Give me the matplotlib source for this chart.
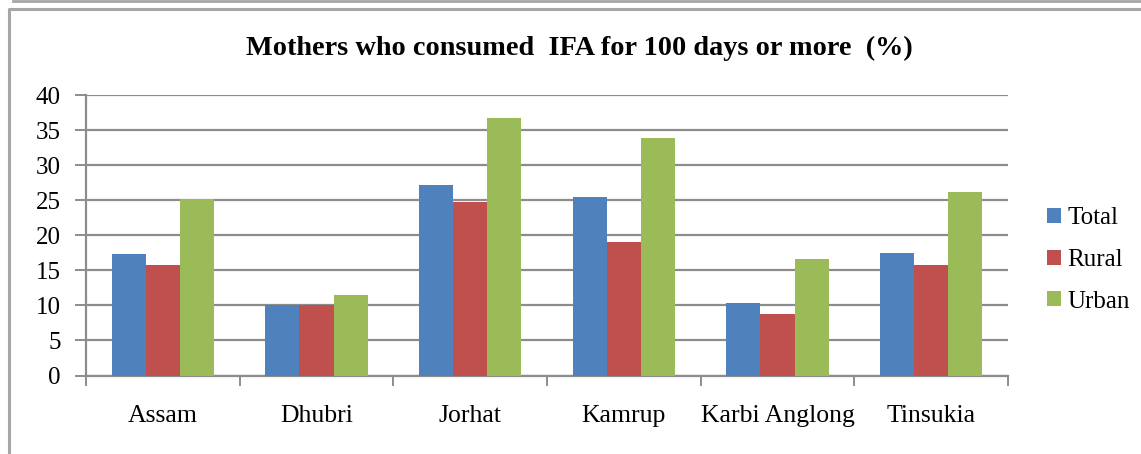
import numpy as np
import matplotlib.pyplot as plt
from matplotlib.lines import Line2D

plt.rcParams['font.family'] = ['Liberation Serif', 'DejaVu Serif']

districts = ['Assam', 'Dhubri', 'Jorhat', 'Kamrup', 'Karbi Anglong', 'Tinsukia']
total = [17.3, 10.0, 27.2, 25.5, 10.4, 17.5]
rural = [15.8, 10.0, 24.7, 19.0, 8.7, 15.8]
urban = [25.1, 11.5, 36.7, 33.8, 16.6, 26.1]

series = [('Total', total, '#4F81BD'),
          ('Rural', rural, '#C0504D'),
          ('Urban', urban, '#9BBB59')]

W, H = 1141, 454
fig = plt.figure(figsize=(W / 100, H / 100), dpi=100)
ax = fig.add_axes([86 / W, (H - 375.5) / H, (1008 - 86) / W, (375.5 - 95) / H])

x = np.arange(len(districts))
bw = 0.222
for i, (name, vals, col) in enumerate(series):
    ax.bar(x + (i - 1) * bw, vals, bw, color=col, label=name, zorder=3)

grid_col = '#8C8C8C'
ax.set_ylim(0, 40)
ax.set_xlim(-0.5, len(districts) - 0.5)
ax.set_yticks(range(0, 41, 5))
ax.yaxis.grid(True, color=grid_col, linewidth=1.6, zorder=0)
ax.tick_params(axis='y', length=8, width=1.4, color=grid_col, pad=10,
               labelsize=18)

# category ticks sit at group boundaries, labels at centres
ax.set_xticks(np.arange(-0.5, len(districts)), minor=False)
ax.set_xticklabels([])
ax.set_xticks(x, minor=True)
ax.set_xticklabels(districts, minor=True)
ax.tick_params(axis='x', which='major', length=7, width=1.4, color=grid_col,
               direction='out')
ax.tick_params(axis='x', which='minor', length=0, pad=21, labelsize=18.5)

for side in ['top', 'right']:
    ax.spines[side].set_visible(False)
for side in ['left', 'bottom']:
    ax.spines[side].set_color(grid_col)
    ax.spines[side].set_linewidth(1.6)

fig.text(579 / W, (H - 48) / H, 'Mothers who consumed  IFA for 100 days or more  (%)',
         ha='center', va='center', fontsize=20.3, fontweight='bold')

ax.legend(loc='center left', bbox_to_anchor=(1047 / W, (H - 260) / H),
          bbox_transform=fig.transFigure, frameon=False, fontsize=18,
          handlelength=0.55, handleheight=0.55, handletextpad=0.25,
          labelspacing=0.78, borderaxespad=0, borderpad=0)

# chart frame
fc = '#A6A6A6'
fig.add_artist(Line2D([13 / W, 1], [1 - 1 / H, 1 - 1 / H], color=fc, lw=2))
fig.add_artist(Line2D([8.5 / W, 8.5 / W, 1], [0, 1 - 9 / H, 1 - 9 / H], color=fc, lw=2.2))

fig.savefig('out.png', dpi=100)
